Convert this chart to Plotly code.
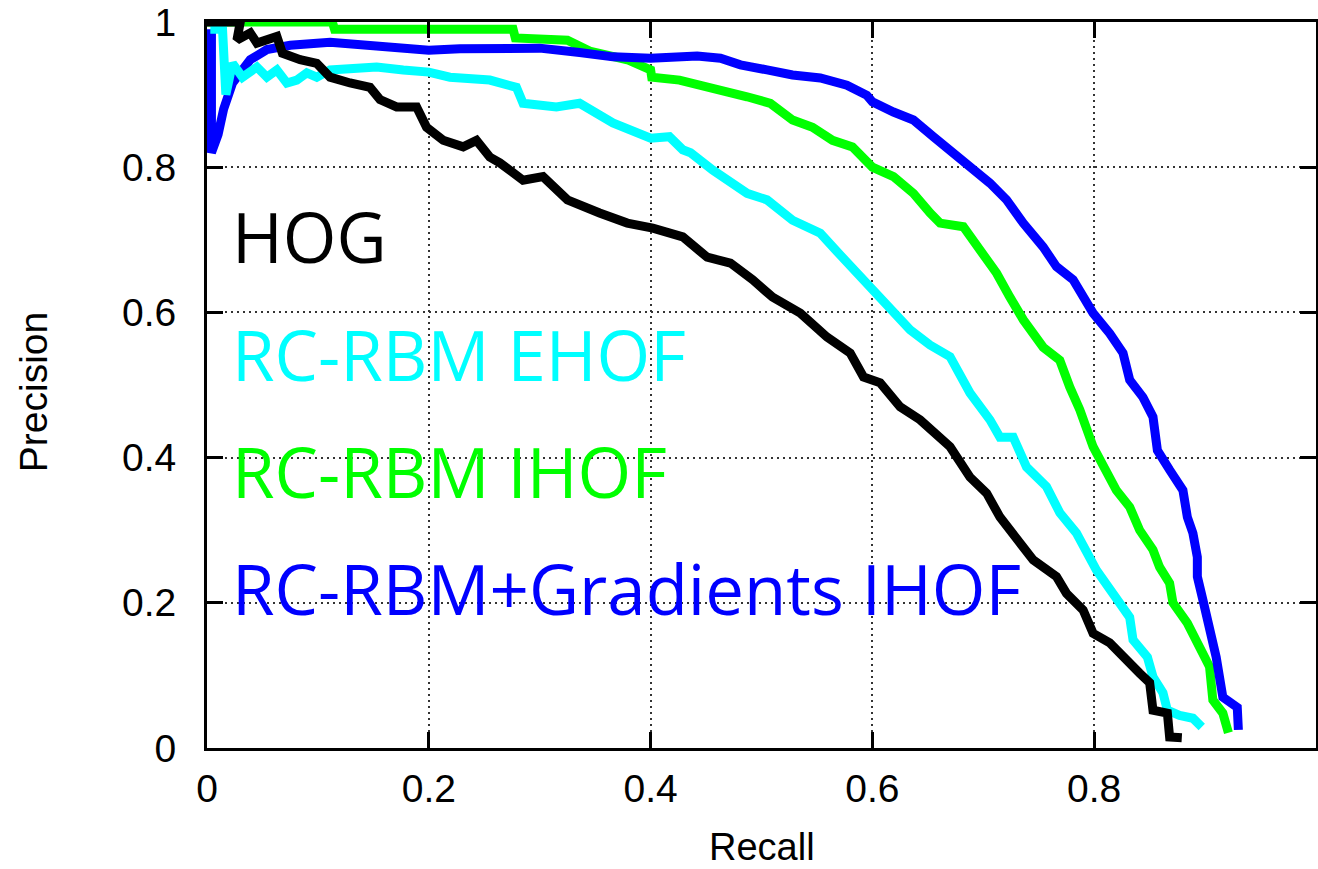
import plotly.graph_objects as go

# ---- data ----
hog_recall = [0.0, 0.03, 0.027, 0.039, 0.045, 0.063, 0.068, 0.084, 0.099, 0.111, 0.129, 0.147, 0.156,
              0.171, 0.189, 0.198, 0.213, 0.231, 0.243, 0.255, 0.264, 0.285, 0.303, 0.325, 0.354,
              0.379, 0.402, 0.429, 0.451, 0.472, 0.492, 0.51, 0.535, 0.559, 0.58, 0.592, 0.607,
              0.625, 0.643, 0.67, 0.688, 0.703, 0.715, 0.73, 0.745, 0.766, 0.775, 0.79, 0.799,
              0.814, 0.826, 0.841, 0.85, 0.853, 0.866, 0.868, 0.879]
hog_precision = [1.0, 1.0, 0.975, 0.985, 0.971, 0.98, 0.957, 0.948, 0.943, 0.924, 0.916, 0.91, 0.893,
                 0.883, 0.883, 0.855, 0.837, 0.828, 0.837, 0.814, 0.806, 0.782, 0.787, 0.755, 0.737,
                 0.723, 0.716, 0.704, 0.676, 0.668, 0.645, 0.621, 0.599, 0.566, 0.544, 0.511, 0.503,
                 0.47, 0.452, 0.415, 0.373, 0.351, 0.318, 0.29, 0.259, 0.236, 0.213, 0.19, 0.158,
                 0.145, 0.125, 0.103, 0.09, 0.052, 0.048, 0.015, 0.014]

ehof_recall = [0.003, 0.014, 0.017, 0.023, 0.032, 0.045, 0.054, 0.063, 0.072, 0.081, 0.09, 0.099,
               0.111, 0.135, 0.153, 0.177, 0.2, 0.219, 0.255, 0.279, 0.285, 0.315, 0.336, 0.366,
               0.4, 0.417, 0.429, 0.436, 0.456, 0.487, 0.505, 0.528, 0.553, 0.571, 0.595, 0.613,
               0.634, 0.652, 0.67, 0.688, 0.706, 0.715, 0.727, 0.739, 0.757, 0.769, 0.784, 0.802,
               0.82, 0.832, 0.835, 0.848, 0.853, 0.862, 0.866, 0.877, 0.889, 0.897]
ehof_precision = [0.99, 0.99, 0.90, 0.943, 0.924, 0.938, 0.924, 0.934, 0.916, 0.92, 0.93, 0.924,
                  0.934, 0.938, 0.938, 0.934, 0.931, 0.924, 0.92, 0.91, 0.888, 0.883, 0.888, 0.861,
                  0.84, 0.842, 0.824, 0.82, 0.796, 0.764, 0.755, 0.727, 0.709, 0.679, 0.64, 0.613,
                  0.576, 0.555, 0.539, 0.489, 0.452, 0.428, 0.428, 0.387, 0.36, 0.324, 0.296, 0.245,
                  0.208, 0.18, 0.149, 0.125, 0.098, 0.076, 0.052, 0.045, 0.041, 0.029]

ihof_recall = [0.0, 0.113, 0.115, 0.276, 0.278, 0.325, 0.345, 0.379, 0.40, 0.401, 0.426, 0.456,
               0.487, 0.508, 0.528, 0.546, 0.564, 0.582, 0.592, 0.6, 0.619, 0.637, 0.652, 0.661,
               0.682, 0.697, 0.712, 0.724, 0.736, 0.754, 0.769, 0.778, 0.787, 0.799, 0.811, 0.82,
               0.832, 0.841, 0.853, 0.859, 0.868, 0.871, 0.884, 0.895, 0.904, 0.907, 0.916, 0.921]
ihof_precision = [1.0, 1.0, 0.99, 0.99, 0.978, 0.975, 0.96, 0.948, 0.934, 0.924, 0.92, 0.91,
                  0.897, 0.888, 0.865, 0.855, 0.837, 0.828, 0.81, 0.80, 0.787, 0.764, 0.737, 0.723,
                  0.718, 0.686, 0.654, 0.621, 0.59, 0.552, 0.534, 0.497, 0.466, 0.415, 0.383, 0.355,
                  0.332, 0.30, 0.273, 0.249, 0.227, 0.2, 0.172, 0.135, 0.112, 0.066, 0.048, 0.021]

grad_recall = [0.004, 0.004, 0.01, 0.015, 0.023, 0.039, 0.054, 0.075, 0.111, 0.147, 0.174, 0.2,
               0.228, 0.264, 0.30, 0.336, 0.366, 0.40, 0.442, 0.463, 0.481, 0.505, 0.528, 0.553,
               0.577, 0.595, 0.6, 0.619, 0.637, 0.655, 0.673, 0.688, 0.706, 0.721, 0.736, 0.754,
               0.766, 0.781, 0.79, 0.799, 0.814, 0.826, 0.832, 0.844, 0.853, 0.857, 0.868, 0.88,
               0.884, 0.889, 0.893, 0.893, 0.898, 0.904, 0.91, 0.916, 0.929, 0.93]
grad_precision = [0.99, 0.82, 0.845, 0.88, 0.916, 0.948, 0.962, 0.968, 0.972, 0.968, 0.964, 0.961,
                  0.963, 0.964, 0.964, 0.958, 0.952, 0.95, 0.953, 0.95, 0.941, 0.934, 0.927, 0.923,
                  0.913, 0.899, 0.89, 0.876, 0.865, 0.842, 0.82, 0.80, 0.778, 0.755, 0.723, 0.69,
                  0.663, 0.645, 0.621, 0.599, 0.571, 0.544, 0.507, 0.483, 0.456, 0.41, 0.383, 0.355,
                  0.318, 0.296, 0.263, 0.236, 0.204, 0.167, 0.125, 0.07, 0.056, 0.025]

series_names = ["HOG", "RC-RBM EHOF", "RC-RBM IHOF", "RC-RBM+Gradients IHOF"]
series_colors = ["#000000", "#00ffff", "#00ff00", "#0000ff"]
label_y = [0.705, 0.543, 0.382, 0.221]

tick_vals = [0, 0.2, 0.4, 0.6, 0.8, 1]
tick_text = ["0", "0.2", "0.4", "0.6", "0.8", "1"]

fig = go.Figure()
data = {
    "HOG": (hog_recall, hog_precision),
    "RC-RBM EHOF": (ehof_recall, ehof_precision),
    "RC-RBM IHOF": (ihof_recall, ihof_precision),
    "RC-RBM+Gradients IHOF": (grad_recall, grad_precision),
}
draw_order = ["RC-RBM IHOF", "RC-RBM+Gradients IHOF", "RC-RBM EHOF", "HOG"]
for name in draw_order:
    r, p = data[name]
    c = series_colors[series_names.index(name)]
    fig.add_trace(go.Scatter(x=r, y=p, mode="lines", name=name,
                             line=dict(color=c, width=9), showlegend=False))

for name, c, yy in zip(series_names, series_colors, label_y):
    fig.add_annotation(x=0.021, y=yy, xref="x", yref="y", text=name, showarrow=False,
                       xanchor="left", yanchor="middle",
                       font=dict(family="Open Sans", size=69, color=c))

fig.add_annotation(x=0.5, y=-0.136, xref="paper", yref="paper", text="Recall", showarrow=False,
                   xanchor="center", yanchor="middle",
                   font=dict(family="Liberation Sans", size=38, color="black"))
fig.add_annotation(x=-0.157, y=0.49, xref="paper", yref="paper", text="Precision", showarrow=False,
                   xanchor="center", yanchor="middle", textangle=-90,
                   font=dict(family="Liberation Sans", size=39, color="black"))

axis_common = dict(
    range=[0, 1], tickmode="array", tickvals=tick_vals, ticktext=tick_text,
    showline=True, linecolor="black", linewidth=3, mirror="ticks",
    ticks="inside", ticklen=16, tickwidth=3, tickcolor="black",
    showgrid=True, gridcolor="#333333", gridwidth=1.5, griddash="2px,4px",
    zeroline=False, automargin=False,
    tickfont=dict(family="Liberation Sans", size=39, color="black"),
)
fig.update_xaxes(**axis_common, ticklabelstandoff=4)
fig.update_yaxes(**axis_common, ticklabelstandoff=20)

fig.update_layout(
    width=1318, height=869,
    margin=dict(l=207, r=2, t=22, b=121),
    paper_bgcolor="white", plot_bgcolor="white",
    template="none",
)

fig.write_html("out.html", config={"displayModeBar": False},
               post_script="document.body.style.margin='0px';document.body.style.overflow='hidden';")
